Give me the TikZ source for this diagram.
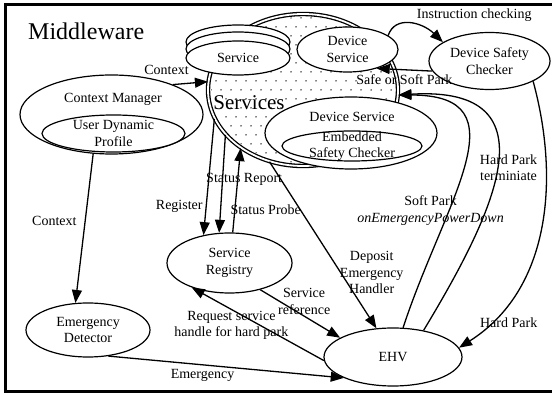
\documentclass[tikz,border=0pt]{standalone}
\usepackage{fontspec}
\setmainfont{Liberation Serif}
\usetikzlibrary{arrows.meta, shapes.geometric}
\tikzset{
  part/.style={
    draw, ellipse, fill=white, line width=1.2pt,
    inner xsep=0pt, inner ysep=-8pt, align=center
  },
  cluster/.style={
    draw, ellipse, double, double distance=1.8pt, line width=1.3pt
  },
  speck/.style={
    fill=black
  },
  flow/.style={
    draw, line width=1.3pt, -{Triangle[length=13pt, width=10pt]}
  },
  flowlbl/.style={
    align=center, inner sep=1pt
  },
  caption/.style={
    align=center, inner sep=0pt
  },
}
\begin{document}
\begin{tikzpicture}[x=1pt, y=-1pt, font=\fontsize{14}{16.5}\selectfont]
\useasboundingbox (0,0) rectangle (552,395);
\clip (0,0) rectangle (552,395);

% ── Frame ──────────────────────────────────────────────────────────────────
\draw[line width=3pt] (5,5) rectangle (570,392);
\node[anchor=west, inner sep=0pt, font=\fontsize{24}{28}\selectfont] (mware) at (28,31) {Middleware};

% ── Nodes ──────────────────────────────────────────────────────────────────
% Services cluster, dotted inside
\node[cluster, minimum width=190pt, minimum height=152pt] (services) at (303,90) {};
\begin{scope}
  \clip (services.center) ellipse [x radius=92, y radius=73];
  \foreach \row in {0,...,16} {
    \foreach \col in {0,...,20} {
      \fill[speck] ({211+\col*10+mod(\row,2)*5}, {18+\row*9}) circle [radius=0.75pt];
    }
  }
\end{scope}
\node[caption, font=\fontsize{21}{24}\selectfont] (servicestxt) at (249,103) {Services};
\node[part, minimum width=104pt, minimum height=34pt] (svcback) at (238,42) {};
\node[part, minimum width=104pt, minimum height=34pt] (svcmid)  at (238,49) {};
\node[part, minimum width=104pt, minimum height=34pt] (svc)     at (238,58) {Service};
\node[part, minimum width=101pt, minimum height=45pt] (devsvc)  at (347.5,49.5) {Device\\Service};
\node[part, minimum width=172pt, minimum height=72pt] (devsvcbig) at (351,133) {};
\node[caption] (devsvctxt) at (352,117) {Device Service};
\node[part, minimum width=140pt, minimum height=30pt] (embchk) at (352,146) {Embedded\\Safety Checker};

% Device safety checker
\node[part, minimum width=121pt, minimum height=57pt] (devchk) at (489.5,61) {Device Safety\\Checker};

% Context manager
\node[part, minimum width=183pt, minimum height=79pt] (ctxmgr) at (111.5,114.5) {};
\node[caption] (ctxtxt) at (113,99) {Context Manager};
\node[part, minimum width=143pt, minimum height=37pt] (userprof) at (113.5,133.5) {User Dynamic\\Profile};

% Lower row
\node[part, minimum width=124pt, minimum height=54pt] (emdet)    at (88,330)    {Emergency\\Detector};
\node[part, minimum width=125pt, minimum height=60pt] (registry) at (229.5,263) {Service\\Registry};
\node[part, minimum width=138pt, minimum height=58pt] (ehv)      at (393,357)   {EHV};

% ── Context flows ──────────────────────────────────────────────────────────
\draw[flow] (ctxmgr.26) -- node[flowlbl, above left, yshift=7pt]{Context} (services.175);
\draw[flow] (ctxmgr.245) -- node[flowlbl, left, pos=0.45, xshift=-7pt]{Context} (emdet.115);
\draw[flow] (emdet.-52) -- node[flowlbl, below, pos=0.4, yshift=-3pt]{Emergency} (ehv.203);

% ── Registry flows ─────────────────────────────────────────────────────────
\draw[flow] (services.198) -- node[flowlbl, left, pos=0.75, xshift=-2pt]{Register} (registry.133);
\draw[flow] (services.210) -- node[flowlbl, pos=0.45, anchor=west, xshift=-17pt, inner sep=0pt]{Status Report} (registry.109);
\draw[flow] (registry.84) -- node[flowlbl, pos=0.27, anchor=west, xshift=-5pt, inner sep=0pt]{Status Probe} (services.223);
\draw[flow] (registry.-41) -- node[flowlbl, above, pos=0.55]{Service\\reference} (ehv.160);
\draw[flow] (ehv.183) -- node[flowlbl, below, pos=0.7]{Request service\\handle for hard park} (registry.213);

% ── EHV flows ──────────────────────────────────────────────────────────────
\draw[flow] (services.245) -- node[flowlbl, pos=0.667, anchor=west, xshift=-1.5pt, inner sep=0pt]{Deposit\\Emergency\\Handler} (ehv.120);
\draw[flow] (ehv.71) .. controls (445,200) and (525,95) .. node[flowlbl, pos=0.35, xshift=-20pt, yshift=-5pt]{Soft Park\\\textit{onEmergencyPowerDown}} (services.-3);
\draw[flow] (ehv.41) .. controls (490,220) and (560,85) .. node[flowlbl, pos=0.5, xshift=12pt]{Hard Park\\terminiate} (services.-3);

% ── Safety checker flows ───────────────────────────────────────────────────
\draw[flow] (devsvc.19) .. controls (395,15) and (422,22) .. node[flowlbl, pos=0.5, anchor=south west, xshift=5pt]{Instruction checking} (devchk.158);
\draw[flow] (devchk.190) -- node[flowlbl, below, inner sep=4pt]{Safe or Soft Park} (devsvc.-33);
\draw[flow] (devchk.-25) .. controls (560,180) and (550,290) .. node[flowlbl, pos=0.85, xshift=14pt, yshift=-4pt]{Hard Park} (ehv.8);

\end{tikzpicture}
\end{document}
